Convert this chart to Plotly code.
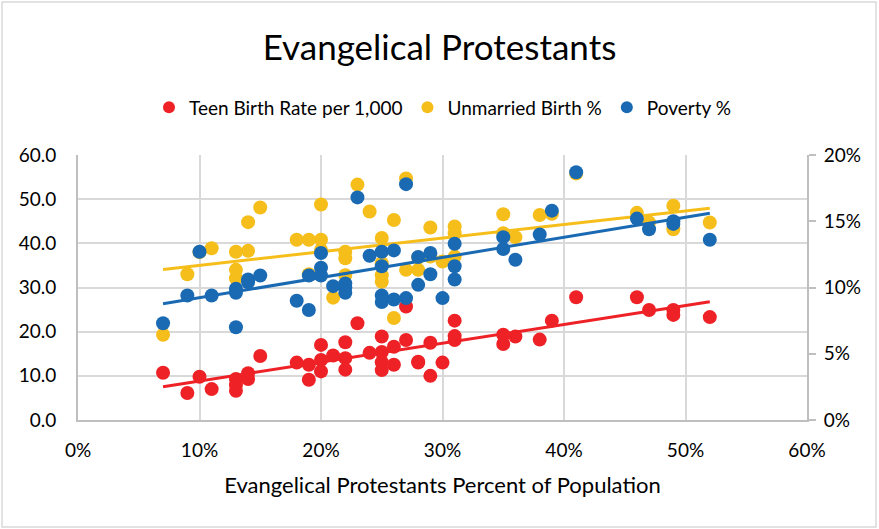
import numpy as np
import plotly.graph_objects as go

# Evangelical Protestants share of population (fraction), one entry per state
evangelical = [0.07, 0.09, 0.10, 0.11, 0.13, 0.13, 0.13, 0.14, 0.14, 0.15,
               0.18, 0.19, 0.19, 0.20, 0.20, 0.20, 0.21, 0.22, 0.22, 0.22,
               0.23, 0.24, 0.25, 0.25, 0.25, 0.25, 0.26, 0.26, 0.27, 0.27,
               0.28, 0.28, 0.29, 0.29, 0.30, 0.31, 0.31, 0.31, 0.35, 0.35,
               0.36, 0.38, 0.39, 0.41, 0.46, 0.47, 0.49, 0.49, 0.52]

teen_birth_rate = [10.7, 6.1, 9.8, 7.0, 9.3, 7.9, 6.6, 10.6, 9.3, 14.5,
                   13.0, 12.5, 9.1, 17.0, 13.6, 11.0, 14.6, 17.6, 14.0, 11.4,
                   21.9, 15.2, 18.9, 15.4, 13.1, 11.3, 16.6, 12.5, 25.7, 18.1,
                   13.2, 13.0, 17.5, 10.0, 13.0, 22.5, 19.0, 18.1, 19.3, 17.2,
                   18.9, 18.2, 22.5, 27.8, 27.8, 24.9, 24.9, 23.8, 23.3]

unmarried_birth = [19.3, 33.0, 38.0, 38.9, 38.1, 34.0, 32.1, 44.8, 38.3, 48.1,
                   40.8, 40.8, 33.0, 48.8, 40.8, 38.5, 27.7, 38.1, 36.6, 32.8,
                   53.3, 47.2, 41.2, 35.5, 32.8, 31.3, 45.3, 23.1, 54.7, 34.0,
                   34.0, 36.8, 43.6, 37.0, 35.9, 43.8, 42.3, 37.0, 46.6, 42.3,
                   41.4, 46.4, 46.7, 55.8, 46.9, 44.7, 48.5, 43.2, 44.7]

poverty = [0.073, 0.094, 0.127, 0.094, 0.099, 0.096, 0.070, 0.106, 0.104, 0.109,
           0.090, 0.109, 0.083, 0.126, 0.115, 0.109, 0.101, 0.103, 0.100, 0.096,
           0.168, 0.124, 0.127, 0.116, 0.094, 0.089, 0.128, 0.091, 0.178, 0.092,
           0.123, 0.102, 0.126, 0.110, 0.092, 0.133, 0.116, 0.106, 0.138, 0.129,
           0.121, 0.140, 0.158, 0.187, 0.152, 0.144, 0.150, 0.148, 0.136]

series_names = ["Teen Birth Rate per 1,000", "Unmarried Birth %", "Poverty %"]
colors = ["#EE2226", "#F6BE1A", "#1A6AB3"]

left_ticks = [0, 10, 20, 30, 40, 50, 60]
right_ticks = [0, 0.05, 0.10, 0.15, 0.20]
x_ticks = [0, 0.1, 0.2, 0.3, 0.4, 0.5, 0.6]

FONT = "Lato, 'Open Sans', sans-serif"

x = np.array(evangelical)
fig = go.Figure()

series = [(teen_birth_rate, "y"), (unmarried_birth, "y"), (poverty, "y2")]
for (vals, yax), name, col in zip(series, series_names, colors):
    fig.add_trace(go.Scatter(x=evangelical, y=vals, mode="markers", name=name,
                             yaxis=yax,
                             marker=dict(color=col, size=14, line=dict(width=0))))
    m, b = np.polyfit(x, np.array(vals), 1)
    xs = np.array([x.min(), x.max()])
    fig.add_trace(go.Scatter(x=xs, y=m * xs + b, mode="lines", yaxis=yax,
                             line=dict(color=col, width=3), showlegend=False,
                             hoverinfo="skip"))

fig.update_layout(
    width=879, height=529,
    margin=dict(l=78, r=72, t=155, b=109, autoexpand=False),
    paper_bgcolor="white", plot_bgcolor="white",
    font=dict(family=FONT, color="#000000", size=18),
    title=dict(text="Evangelical Protestants", x=0.5, xanchor="center",
               y=1 - 48 / 529, yanchor="middle",
               font=dict(size=35, family=FONT, color="#000000")),
    legend=dict(orientation="h", x=0.5, xanchor="center", y=1.18, yanchor="middle",
                font=dict(size=19), itemsizing="constant", traceorder="normal",
                itemwidth=30, bgcolor="rgba(0,0,0,0)"),
    xaxis=dict(range=[0, 0.6], tickvals=x_ticks, tickformat=".0%",
               showgrid=True, gridcolor="#D9D9D9", gridwidth=1.5,
               showline=True, linecolor="#BFBFBF", linewidth=2,
               zeroline=False, ticks="", tickfont=dict(size=19),
               ticklabelstandoff=12,
               title=dict(text="Evangelical Protestants Percent of Population",
                          font=dict(size=22), standoff=18)),
    yaxis=dict(range=[0, 60], tickvals=left_ticks, tickformat=".1f",
               showgrid=True, gridcolor="#D9D9D9", gridwidth=1.5,
               showline=True, linecolor="#BFBFBF", linewidth=2,
               zeroline=False, ticks="", ticklabelstandoff=16,
               tickfont=dict(size=19)),
    yaxis2=dict(range=[0, 0.2], tickvals=right_ticks, tickformat=".0%",
                overlaying="y", side="right", showgrid=False,
                showline=True, linecolor="#BFBFBF", linewidth=2,
                zeroline=False, ticks="outside", ticklen=7, tickcolor="#BFBFBF",
                tickwidth=2, tickfont=dict(size=19), ticklabelstandoff=4),
    showlegend=True,
)

fig.add_shape(type="rect", xref="paper", yref="paper",
              x0=(2 - 78) / 729, x1=(876 - 78) / 729,
              y0=(420 - 527) / 265, y1=(420 - 2) / 265,
              line=dict(color="#D9D9D9", width=1.5), layer="below")

fig.write_html("out.html", config={"displayModeBar": False},
               post_script="document.body.style.margin='0';")
